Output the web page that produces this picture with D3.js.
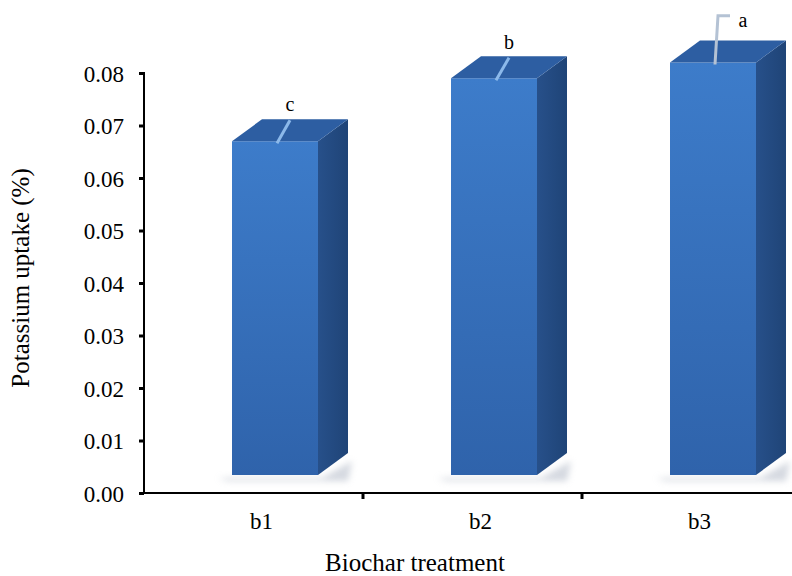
<!DOCTYPE html>
<html><head><meta charset="utf-8">
<script src="https://cdn.jsdelivr.net/npm/d3@7"></script>
<style>body{margin:0;background:#fff}svg{display:block}text{font-family:"Liberation Serif","Times New Roman",serif;fill:#000}</style>
</head><body>
<script>
const categories = ["b1", "b2", "b3"];
const values = [0.067, 0.079, 0.082];
const errorTops = [0.071, 0.0829, 0.0909];
const letters = ["c", "b", "a"];
const yTicks = [0, 0.01, 0.02, 0.03, 0.04, 0.05, 0.06, 0.07, 0.08];
const xTitle = "Biochar treatment";
const yTitle = "Potassium uptake (%)";

const W = 792, H = 576;
const svg = d3.select("body").append("svg").attr("width", W).attr("height", H);
const defs = svg.append("defs");
const gFront = defs.append("linearGradient").attr("id", "front").attr("x1", 0).attr("y1", 0).attr("x2", 0).attr("y2", 1);
gFront.append("stop").attr("offset", 0).attr("stop-color", "#3d7cca");
gFront.append("stop").attr("offset", 1).attr("stop-color", "#2f63ab");
const gSide = defs.append("linearGradient").attr("id", "side").attr("x1", 0).attr("y1", 0).attr("x2", 1).attr("y2", 0);
gSide.append("stop").attr("offset", 0).attr("stop-color", "#27508a");
gSide.append("stop").attr("offset", 1).attr("stop-color", "#1f4477");
defs.append("filter").attr("id", "blur").attr("x", -0.2).attr("y", -1).attr("width", 1.4).attr("height", 3)
  .append("feGaussianBlur").attr("stdDeviation", 3);

const x = d3.scaleBand().domain(categories).range([144, 801]).paddingInner(0).paddingOuter(0);
const y = d3.scaleLinear().domain([0, 0.08]).range([493, 73]);

const frontOff = 88, frontW = 86, dx = 30, dy = -22, floorLift = 18;

// bars
const bars = svg.append("g").selectAll("g").data(categories).join("g");
bars.each(function(c, i) {
  const g = d3.select(this);
  const L = x(c) + frontOff, R = L + frontW;
  const T = y(values[i]), B = y(0) - floorLift;
  g.append("path").attr("d", `M${L - 14},${B + 3} L${R + 4},${B + 3} L${R + dx + 4},${B + dy + 8} L${R + dx},${B + 6} L${R},${B + 6} L${L - 4},${B + 6} Z`)
    .attr("fill", "#b9c0cc").attr("opacity", 0.6).attr("filter", "url(#blur)");
  g.append("rect").attr("x", L).attr("y", T).attr("width", frontW).attr("height", B - T).attr("fill", "url(#front)");
  g.append("path").attr("d", `M${R},${T} L${R + dx},${T + dy} L${R + dx},${B + dy} L${R},${B} Z`).attr("fill", "url(#side)");
  g.append("path").attr("d", `M${L},${T} L${L + dx},${T + dy} L${R + dx},${T + dy} L${R},${T} Z`).attr("fill", "#2d5ea2");
  const ex0 = L + 45, ey0 = T + 2;
  const eyTop = y(errorTops[i]);
  const hasCap = eyTop < T + dy - 5;
  const ex1 = hasCap ? L + 48 : L + 58;
  g.append("path").attr("d", `M${ex0},${ey0} L${ex1},${eyTop}` + (hasCap ? ` L${ex1 + 12},${eyTop}` : ""))
    .attr("fill", "none").attr("stroke", hasCap ? "#b4c2d4" : "#8cb9ea").attr("stroke-width", 3);
  g.append("text").attr("x", hasCap ? ex1 + 25 : ex1).attr("y", hasCap ? eyTop + 11 : eyTop - 9)
    .attr("text-anchor", "middle").attr("font-size", 20).text(letters[i]);
});

// axes
const yAxis = d3.axisLeft(y).tickValues(yTicks).tickFormat(d3.format(".2f")).tickSize(5).tickPadding(15);
const ya = svg.append("g").attr("transform", "translate(144,0)").call(yAxis);
ya.attr("font-family", null);
ya.select(".domain").attr("stroke", "#000").attr("stroke-width", 2).attr("d", `M-5,${y(0.08)}H0V${y(0)}`);
ya.selectAll(".tick line").attr("stroke", "#000").attr("stroke-width", 3);
ya.selectAll(".tick text").attr("font-size", 23).attr("dy", "0.35em");

const xa = svg.append("g").attr("transform", `translate(0,${y(0)})`);
xa.append("line").attr("x1", 139).attr("x2", W).attr("y1", 0).attr("y2", 0).attr("stroke", "#000").attr("stroke-width", 2);
xa.selectAll(".xt").data(categories.slice(1)).join("line").attr("class", "xt")
  .attr("x1", d => x(d)).attr("x2", d => x(d)).attr("y1", 0).attr("y2", 6).attr("stroke", "#000").attr("stroke-width", 3);
xa.selectAll(".xl").data(categories).join("text").attr("class", "xl")
  .attr("x", d => x(d) + x.bandwidth() / 2 + 8).attr("y", 36).attr("text-anchor", "middle").attr("font-size", 23).text(d => d);

svg.append("text").attr("x", 415).attr("y", 571).attr("text-anchor", "middle").attr("font-size", 25).text(xTitle);
svg.append("text").attr("transform", "translate(29,278) rotate(-90)").attr("text-anchor", "middle").attr("font-size", 25).text(yTitle);
</script>
</body></html>
